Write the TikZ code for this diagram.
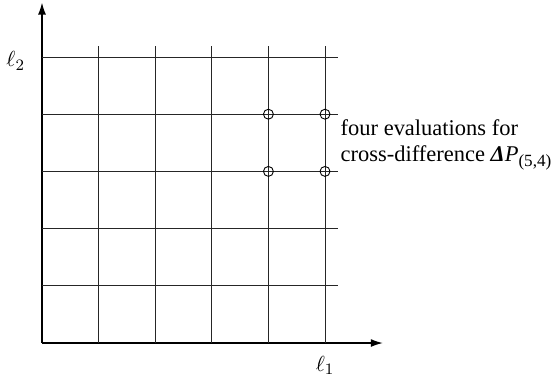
\documentclass[tikz,border=0pt]{standalone}
\usepackage{amsmath}
\usepackage{amssymb}
\usepackage{fontspec}
\setmainfont{Liberation Serif}
\usetikzlibrary{positioning, arrows.meta}

\begin{document}
\begin{tikzpicture}[x=1cm, y=1.0106cm,
      axis/.style={-{Latex[length=6pt, width=4pt]}, line width=0.6pt},
      gridline/.style={line width=0.45pt, black!85},
      evalpt/.style={circle, draw, line width=0.45pt, minimum size=5pt, inner sep=0pt},
      lbl/.style={font=\fontsize{11.3}{13}\selectfont},
    ]
      \useasboundingbox (-0.742,-0.629) rectangle (9.028,5.9965);
      % axes
      \coordinate (O) at (0,0);
      \coordinate (xend) at (6.02,0);
      \coordinate (yend) at (0,5.95);
      \draw[axis] (O) -- (xend);
      \draw[axis] (O) -- (yend);
      % grid
      \foreach \i in {1,...,5} {
        \draw[gridline] (\i,0) -- (\i,5.2);
        \draw[gridline] (0,\i) -- (5.23,\i);
      }
      % axis labels
      \node[lbl, left=5pt] (l2) at (0,4.93) {$\ell_2$};
      \node[lbl, below=3pt] (l1) at (5,0) {$\ell_1$};
      % evaluation points
      \node[evalpt] (p44) at (4,4) {};
      \node[evalpt] (p54) at (5,4) {};
      \node[evalpt] (p43) at (4,3) {};
      \node[evalpt] (p53) at (5,3) {};
      \node[lbl, anchor=west, align=left, inner sep=0pt] (note) at (5.27,3.46)
        {four evaluations for\\cross-difference {\bfseries\itshape Δ}\textit{P}\raisebox{-0.45ex}{\fontsize{8.6}{9}\selectfont(5,4)}};
    \end{tikzpicture}
\end{document}
